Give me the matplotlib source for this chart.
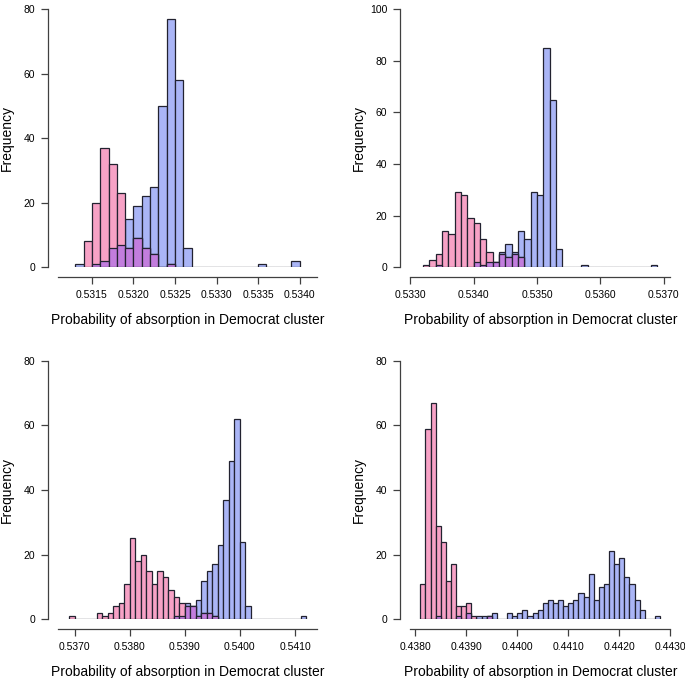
import numpy as np
import matplotlib
matplotlib.use("Agg")
import matplotlib.pyplot as plt

plt.rcParams["font.family"] = ["Liberation Sans", "DejaVu Sans"]

BIN = 0.0001
XLABEL = "Probability of absorption in Democrat cluster"

# Panel 1 (top left)
p1_blue_start = 0.5313
p1_blue = [1, 0, 1, 2, 6, 7, 15, 19, 22, 25, 50, 77, 58, 6,
           0, 0, 0, 0, 0, 0, 0, 0, 1, 0, 0, 0, 2]
p1_pink_start = 0.5314
p1_pink = [8, 20, 37, 32, 23, 6, 9, 6, 4, 0, 1]
p1_ticks = [0.5315, 0.5320, 0.5325, 0.5330, 0.5335, 0.5340]
p1_yticks = [0, 20, 40, 60, 80]

# Panel 2 (top right)
p2_blue_start = 0.5334
p2_blue = [1, 0, 0, 0, 0, 0, 2, 1, 2, 2, 6, 9, 6, 14, 11, 29, 28, 85, 65, 7,
           0, 0, 0, 1, 0, 0, 0, 0, 0, 0, 0, 0, 0, 0, 1]
p2_pink_start = 0.5332
p2_pink = [1, 3, 5, 14, 13, 29, 28, 19, 17, 11, 6, 2, 5, 4, 5, 4]
p2_ticks = [0.5330, 0.5340, 0.5350, 0.5360, 0.5370]
p2_yticks = [0, 20, 40, 60, 80, 100]

# Panel 3 (bottom left)
p3_blue_start = 0.5388
p3_blue = [1, 1, 5, 4, 6, 12, 15, 17, 23, 37, 49, 62, 24, 4,
           0, 0, 0, 0, 0, 0, 0, 0, 0, 1]
p3_pink_start = 0.5369
p3_pink = [1, 0, 0, 0, 0, 2, 1, 2, 4, 5, 11, 25, 18, 20, 15, 11, 15, 13,
           9, 7, 5, 4, 4, 1, 2, 2, 1]
p3_ticks = [0.5370, 0.5380, 0.5390, 0.5400, 0.5410]
p3_yticks = [0, 20, 40, 60, 80]

# Panel 4 (bottom right)
p4_blue_start = 0.4384
p4_blue = [1, 0, 0, 0, 1, 0, 2, 0, 1, 1, 1, 2, 0, 0, 2, 1, 2, 3, 1, 2,
           3, 5, 6, 5, 6, 4, 5, 6, 8, 7, 14, 6, 10, 11, 21, 17, 19, 13, 11, 6,
           3, 0, 0, 1]
p4_pink_start = 0.4381
p4_pink = [11, 59, 67, 29, 24, 12, 17, 4, 4, 5, 1, 0, 0, 1]
p4_ticks = [0.4380, 0.4390, 0.4400, 0.4410, 0.4420, 0.4430]
p4_yticks = [0, 20, 40, 60, 80]

BLUE = "#aab5f6"
PINK = "#f7a2c6"
BOTH = "#c27ddd"
EDGE = "#222230"

W, H = 685, 678
fig = plt.figure(figsize=(W / 100, H / 100), dpi=100)

# pixel boxes: left, right, top, bottom(y of zero), xlim
panels = [
    (p1_blue_start, p1_blue, p1_pink_start, p1_pink, p1_ticks, p1_yticks,
     (58.3, 316.7, 9.3, 267.3), (0.531096, 0.534204)),
    (p2_blue_start, p2_blue, p2_pink_start, p2_pink, p2_ticks, p2_yticks,
     (410.3, 670.3, 9.3, 267.3), (0.5330, 0.537104)),
    (p3_blue_start, p3_blue, p3_pink_start, p3_pink, p3_ticks, p3_yticks,
     (58.3, 316.7, 360.7, 619.3), (0.536702, 0.541394)),
    (p4_blue_start, p4_blue, p4_pink_start, p4_pink, p4_ticks, p4_yticks,
     (410.3, 670.3, 360.7, 619.3), (0.437902, 0.4430)),
]


def overlap(bstart, bcounts, pstart, pcounts):
    # bins shared by both histograms, height = smaller count
    ib = int(round(bstart / BIN))
    ip = int(round(pstart / BIN))
    lo, hi = max(ib, ip), min(ib + len(bcounts), ip + len(pcounts))
    idx = np.arange(lo, hi)
    h = np.minimum(np.array(bcounts)[idx - ib], np.array(pcounts)[idx - ip])
    keep = h > 0
    return idx[keep] * BIN, h[keep]


for bstart, bcounts, pstart, pcounts, xt, yt, box, xlim in panels:
    l, r, t, b = box
    ax = fig.add_axes([l / W, 1 - b / H, (r - l) / W, (b - t) / H])

    bx = bstart + np.arange(len(bcounts)) * BIN
    px = pstart + np.arange(len(pcounts)) * BIN
    ox, oh = overlap(bstart, bcounts, pstart, pcounts)
    kw = dict(width=BIN, align="edge", edgecolor=EDGE, linewidth=0.9)
    ax.bar(bx, bcounts, color=BLUE, **kw)
    ax.bar(px, pcounts, color=PINK, **kw)
    ax.bar(ox, oh, color=BOTH, **kw)

    ax.set_xlim(*xlim)
    ax.set_ylim(0, yt[-1])
    ax.set_xticks(xt)
    ax.set_xticklabels([f"{v:.4f}" for v in xt])
    ax.set_yticks(yt)
    ax.set_yticklabels([str(v) for v in yt], rotation=90, va="center")

    for s in ("top", "right"):
        ax.spines[s].set_visible(False)
    ax.spines["left"].set_position(("outward", 7.2))
    ax.spines["bottom"].set_position(("outward", 7.2))
    ax.spines["left"].set_bounds(0, yt[-1])
    for s in ("left", "bottom"):
        ax.spines[s].set_color("#404040")
        ax.spines[s].set_linewidth(0.9)
    ax.tick_params(axis="both", length=5, width=0.9, color="#404040",
                   labelsize=7.5, pad=4.5)

    ax.set_xlabel(XLABEL, fontsize=10, va="center")
    ax.xaxis.set_label_coords(0.5, -53.0 / (b - t))
    ax.set_ylabel("Frequency", fontsize=10, va="center")
    ax.yaxis.set_label_coords(-51.0 / (r - l), 0.5)
    ax.patch.set_visible(False)

fig.savefig("out.png", dpi=100)
